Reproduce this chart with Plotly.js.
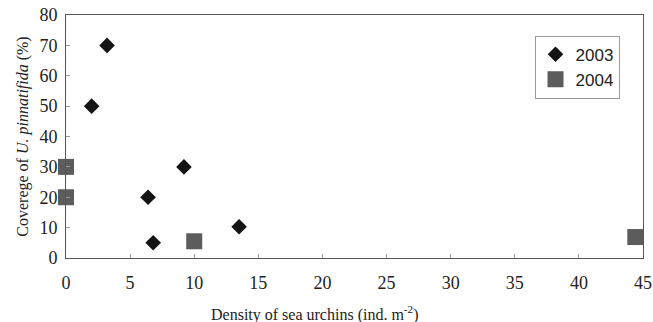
<!DOCTYPE html>
<html>
<head>
<meta charset="utf-8">
<script src="https://cdn.plot.ly/plotly-3.0.1.min.js"></script>
<style>html,body{margin:0;padding:0;background:#fff;}#chart{width:653px;height:322px;}</style>
</head>
<body>
<div id="chart"></div>
<script>
const x2003 = [2.0, 3.2, 6.4, 6.8, 9.2, 13.5];
const y2003 = [50, 70, 20, 5, 30, 10.3];
const x2004 = [0, 0, 10.0, 44.4];
const y2004 = [30, 20, 5.5, 6.9];
const xTicks = [0, 5, 10, 15, 20, 25, 30, 35, 40, 45];
const yTicks = [0, 10, 20, 30, 40, 50, 60, 70, 80];

const traces = [
  {x: x2003, y: y2003, name: '2003', type: 'scatter', mode: 'markers',
   marker: {symbol: 'diamond', size: 12, color: '#141414'}, cliponaxis: false},
  {x: x2004, y: y2004, name: '2004', type: 'scatter', mode: 'markers',
   marker: {symbol: 'square', size: 16, color: '#5c5c5c'}, cliponaxis: false}
];

const serif = "Liberation Serif";
const layout = {
  width: 653, height: 322,
  margin: {l: 66, r: 10, t: 15, b: 64},
  paper_bgcolor: '#fff', plot_bgcolor: '#fff',
  font: {family: serif, size: 17, color: '#222'},
  showlegend: true,
  legend: {x: 0.812, y: 0.915, xanchor: 'left', yanchor: 'top',
    bgcolor: '#fff', bordercolor: '#999', borderwidth: 1,
    font: {family: 'Liberation Sans', size: 17, color: '#222'},
    itemwidth: 30, tracegroupgap: 2},
  xaxis: {range: [0, 45], tickvals: xTicks, ticktext: xTicks.map(String),
    showgrid: false, zeroline: false, showline: true, linecolor: '#555', linewidth: 1,
    mirror: true, ticks: 'inside', ticklen: 4, tickcolor: '#999', ticklabelstandoff: 8,
    tickfont: {family: serif, size: 18, color: '#222'}, fixedrange: true},
  yaxis: {range: [0, 80], tickvals: yTicks, ticktext: yTicks.map(String),
    showgrid: false, zeroline: false, showline: true, linecolor: '#555', linewidth: 1,
    mirror: true, ticks: 'inside', ticklen: 4, tickcolor: '#999', ticklabelstandoff: 4,
    tickfont: {family: serif, size: 18, color: '#222'},
    title: {text: 'Coverege of <i>U. pinnatifida</i> (%)', font: {family: serif, size: 16, color: '#222'}, standoff: 6},
    fixedrange: true},
  annotations: [
    {text: 'Density of sea urchins (ind. m<sup>-2</sup>)', xref: 'paper', yref: 'paper',
     x: (315 - 66) / 577, y: -0.178, xanchor: 'center', yanchor: 'top', showarrow: false,
     font: {family: serif, size: 16, color: '#222'}}
  ]
};
Plotly.newPlot('chart', traces, layout, {staticPlot: true, displayModeBar: false});
</script>
</body>
</html>
